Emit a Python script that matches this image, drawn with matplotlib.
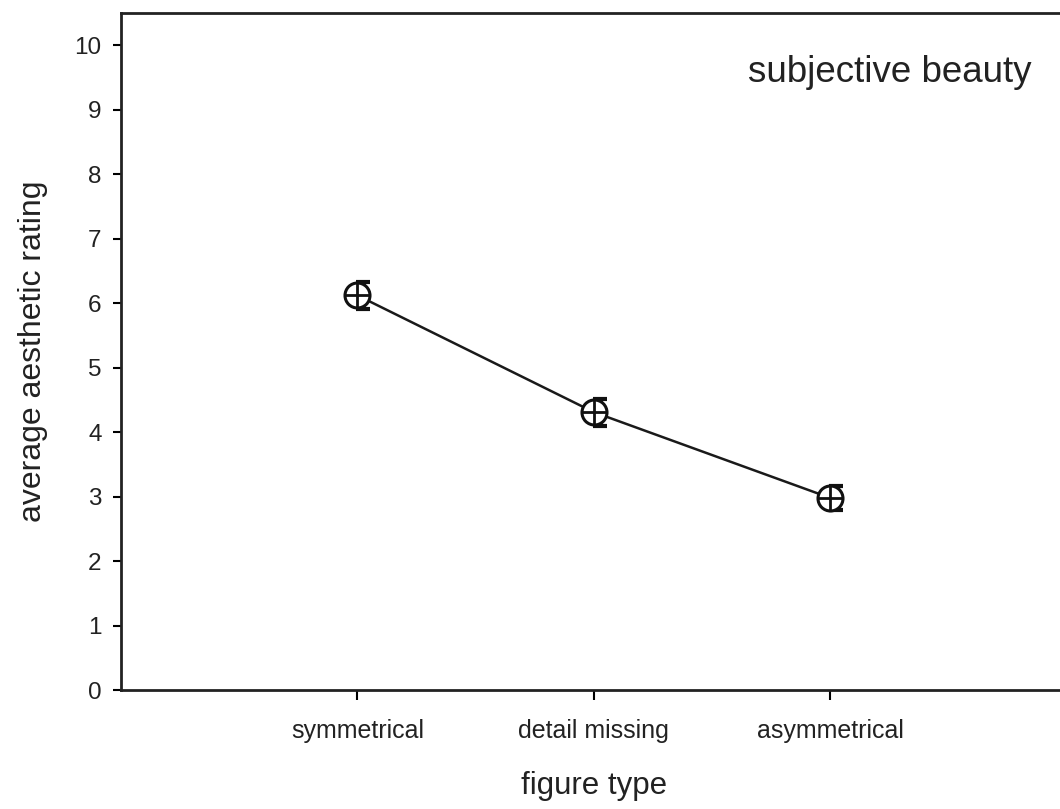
import matplotlib.pyplot as plt
from matplotlib.transforms import ScaledTranslation

plt.rcParams['font.family'] = ['Liberation Sans', 'DejaVu Sans']

# data
categories = ['symmetrical', 'detail missing', 'asymmetrical']
ratings = [6.12, 4.31, 2.98]
errors = [0.21, 0.21, 0.18]

fig = plt.figure(figsize=(10.6, 8.09), dpi=100)
ax = fig.add_axes([0.1142, 0.147, 0.892, 0.837])

xs = [1, 2, 3]
ax.plot(xs, ratings, color='#1a1a1a', lw=1.8, zorder=2)

# error bars sit a little to the right of the marker
shift = ax.transData + ScaledTranslation(6 / 100, 0, fig.dpi_scale_trans)
ax.errorbar(xs, ratings, yerr=errors, fmt='none', ecolor='#111111',
            elinewidth=4, capsize=5, capthick=3, transform=shift, zorder=3)

ax.plot(xs, ratings, 'o', ms=18, mfc='white', mec='#111111', mew=2.2, zorder=4)
ax.plot(xs, ratings, '+', ms=18, mec='#111111', mew=2, zorder=5)

ax.set_xlim(0, 4)
ax.set_ylim(0, 10.5)
ax.set_yticks(range(0, 11))
ax.set_xticks(xs)
ax.set_xticklabels(categories, fontsize=18, color='#222222')
ax.tick_params(axis='y', labelsize=17.5, length=6, width=1.5, pad=8, labelcolor='#222222')
ax.tick_params(axis='x', length=7, width=1.5, pad=14)

for side in ['left', 'top', 'bottom', 'right']:
    ax.spines[side].set_linewidth(2)
    ax.spines[side].set_color('#222222')

ax.set_ylabel('average aesthetic rating', fontsize=23, color='#222222', labelpad=19)
ax.set_xlabel('figure type', fontsize=22.5, color='#222222', labelpad=20)

ax.text(3.25, 9.58, 'subjective beauty', fontsize=26.5, color='#222222',
        ha='center', va='center')

fig.savefig('out.png', dpi=100)
